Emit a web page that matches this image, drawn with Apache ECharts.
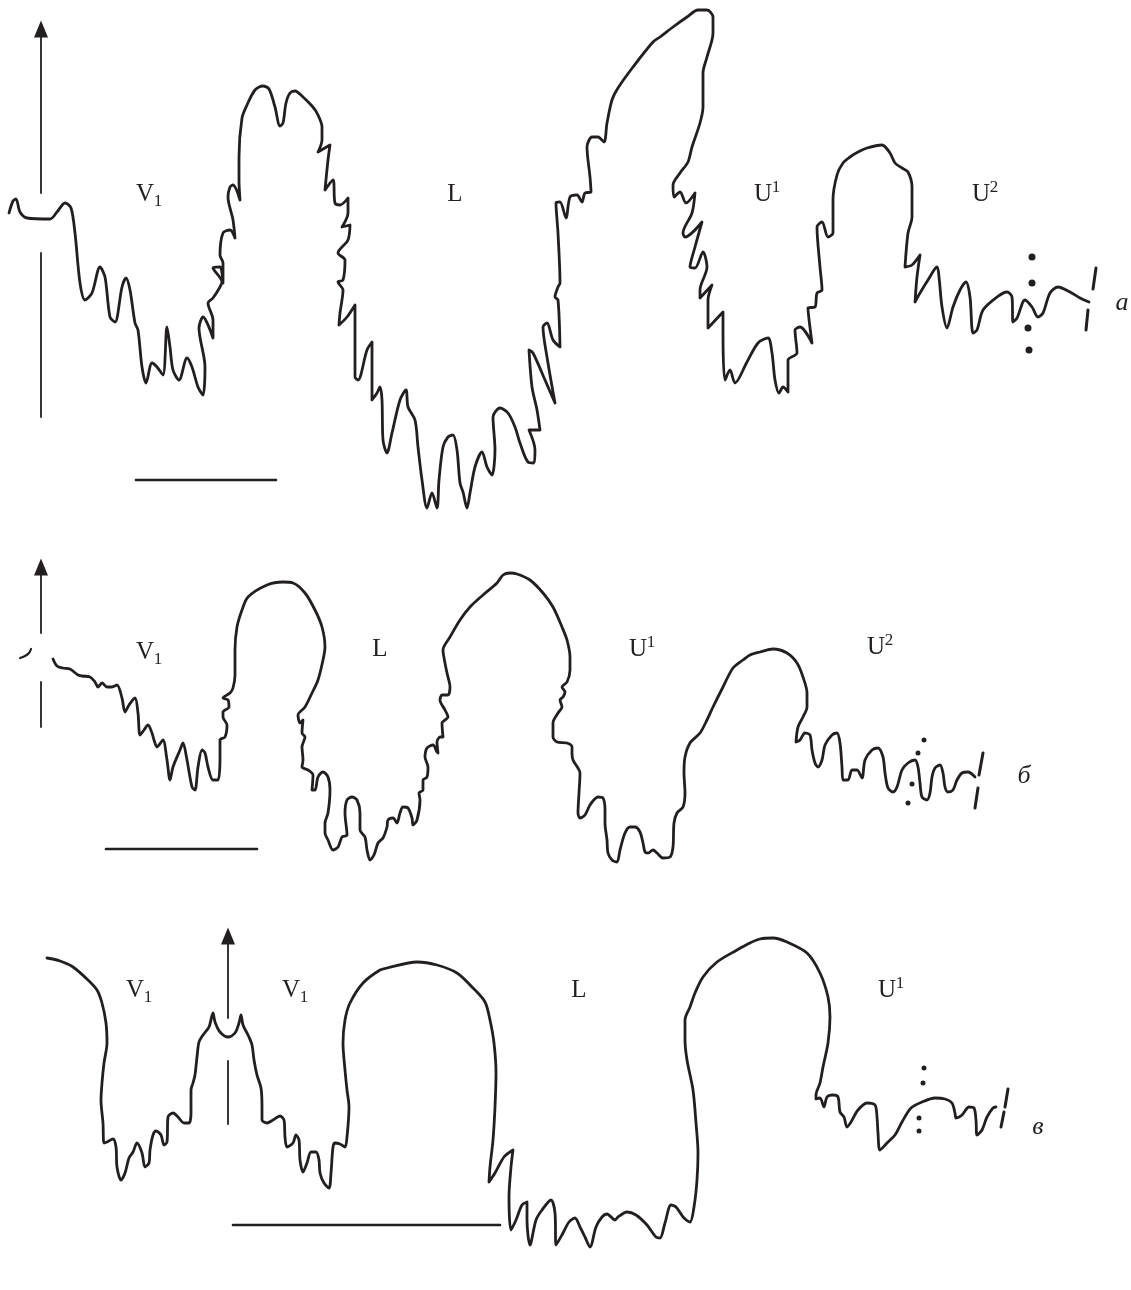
<!DOCTYPE html>
<html><head><meta charset="utf-8">
<script src="https://cdn.jsdelivr.net/npm/echarts@6/dist/echarts.min.js"></script>
<style>html,body{margin:0;padding:0;background:#fff}#c{width:1131px;height:1290px}</style>
</head><body><div id="c"></div>
<script>
// ---- traced suture lines (x, y in figure units) ----
var sutureA = [[9,213],[13,201],[16,199],[20,212],[27,218],[50,219],[57,212],[65,203],[71,208],[75,233],[80,283],[85,300],[92,293],[100,267],[105,277],[110,317],[115,322],[122,287],[126,278],[130,290],[135,323],[138,330],[142,367],[146,383],[152,363],[157,367],[163,375],[167,327],[170,347],[173,370],[179,380],[187,358],[192,367],[198,387],[203,395],
[205,367],[199,328],[203,317],[213,338],[213,320],[208,303],[213,298],[220,287],[222,282],[213,268],[220,267],[223,283],[223,263],[220,255],[223,233],[230,230],[235,238],[233,220],[228,197],[230,187],[233,185],[240,200],[239,180],[239,157],[242,118],[247,105],[255,90],[263,86],[269,89],[275,107],[280,126],[283,123],[286,103],[290,93],
[295,91],[303,97],[312,106],[317,113],[322,127],[322,140],[318,152],[330,145],[328,160],[325,190],[333,180],[335,203],[340,205],[348,198],[348,213],[342,227],[350,225],[348,240],[338,253],[345,260],[343,280],[338,282],[343,290],[340,313],[339,325],[347,317],[355,305],[355,333],[355,377],[358,380],[367,350],[372,342],[372,367],[372,400],[377,393],[380,387],[382,400],[383,440],[387,453],[392,433],[400,400],[406,390],[408,407],[415,420],[418,447],[422,480],[427,508],[432,493],[437,508],[439,480],[443,447],[448,437],[453,435],[457,450],[460,483],[463,492],[467,508],[470,493],[475,467],[482,452],[487,467],[492,475],[495,450],[493,417],[500,408],[508,413],[515,427],[520,443],[528,462],[534,463],[535,450],[529,430],[540,430],[537,410],[532,387],[529,350],[533,353],[545,380],[555,403],[547,357],[543,327],[547,323],[553,340],[560,347],[558,300],[555,297],[558,287],[560,283],[558,233],[556,203],[560,202],[566,218],[570,197],[577,195],[582,202],[585,193],[591,192],
[590,177],[587,147],[592,137],[598,137],[604,142],[607,123],[612,100],[618,88],[633,67],[653,42],[660,37],[673,27],[687,17],[698,10],[707,10],[713,17],[713,33],[707,57],[703,73],[703,107],[700,123],[692,147],[688,162],[680,173],[673,185],[674,197],[680,192],[686,203],[695,193],[692,213],[683,233],[685,237],[702,222],[695,247],[690,267],[695,268],[703,252],[707,267],[700,290],[700,298],[712,285],[708,300],[708,328],[723,312],[723,333],[725,380],[730,370],[735,383],[747,362],[758,343],[768,338],[772,353],[775,380],[779,393],[783,387],[788,392],[788,360],[797,353],[795,330],[800,327],[812,343],[808,308],[815,307],[817,293],[822,290],[820,267],[817,227],[822,222],[828,237],[833,233],[833,200],[837,175],[843,163],[850,157],
[858,152],[867,148],[882,145],[890,153],[895,163],[902,168],[908,172],[912,187],[912,217],[908,233],[905,267],[912,265],[920,255],[917,277],[915,302],[920,293],[928,280],[937,267],[939,277],[942,307],[947,328],[953,307],[960,290],[966,282],[970,297],[973,333],[977,330],[983,310],[997,297],[1007,292],[1012,297],[1013,322],[1017,318],[1025,300],[1032,307],[1038,317],[1043,313],[1050,293],[1058,287],[1070,292],[1080,298],[1089,302]];

var sutureB = [[53,659],[57,666],[63,668],[70,669],[78,675],[82,676],[90,677],[95,682],[98,687],[102,683],[107,687],[112,687],[117,685],[122,698],[125,712],[129,705],[135,698],[138,713],[140,735],[144,730],[148,725],[152,733],[154,740],[157,747],[159,745],[163,740],[167,760],[170,780],[173,767],[180,750],[183,743],[187,760],[192,787],[195,790],[198,767],[202,750],[205,753],[208,767],[213,780],[218,780],[220,757],[220,740],[225,737],[227,725],[223,717],[223,712],[229,707],[228,700],[223,698],[230,693],[233,688],[235,675],[235,650],[237,627],[242,610],[248,597],[267,585],[283,582],[293,583],[305,593],[315,610],[322,627],[325,647],[323,660],[318,680],[312,693],[305,707],[298,715],[300,723],[303,720],[302,733],[305,737],[302,747],[303,760],[302,767],[308,770],[313,775],[312,790],[315,790],[318,777],[323,772],[328,777],[330,790],[328,813],[325,823],[325,833],[328,840],[333,850],[338,847],[342,837],[347,835],[345,813],[347,800],[352,797],[357,800],[360,813],[360,830],[365,837],[367,850],[370,860],[374,855],[378,843],[383,838],[387,827],[388,820],[393,818],[397,823],[400,813],[403,807],[408,808],[412,818],[413,825],[417,820],[420,800],[419,793],[423,790],[423,780],[427,777],[428,767],[425,757],[427,748],[433,745],[437,752],[438,753],[437,742],[440,737],[443,737],[442,723],[445,720],[448,717],[445,710],[440,700],[442,695],[448,695],[450,687],[447,673],[445,663],[443,650],[450,637],[460,620],[470,607],[483,595],[497,583],[503,575],[510,573],[517,574],[530,580],[543,593],[553,607],[562,627],[567,640],[570,657],[570,670],[567,682],[562,687],[565,692],[563,697],[560,700],[562,707],[558,713],[553,723],[553,737],[557,742],[567,743],[572,747],[572,753],[573,760],[578,768],[580,773],[579,793],[578,813],[580,818],[585,815],[590,805],[598,797],[603,798],[605,810],[605,823],[607,840],[608,853],[612,860],[617,862],[620,850],[625,833],[630,827],[635,827],[640,832],[643,843],[645,852],[648,853],[653,850],[657,853],[663,858],[670,857],[673,847],[674,823],[677,813],[683,807],[685,793],[684,773],[685,757],[690,743],[700,733],[707,720],[713,707],[723,687],[733,668],[743,660],[750,655],[760,652],[773,649],[787,653],[797,663],[803,677],[807,693],[807,707],[803,717],[798,727],[796,742],[800,740],[805,733],[810,735],[812,750],[815,763],[818,767],[822,760],[825,745],[832,735],[837,733],[840,743],[842,767],[843,780],[848,780],[852,770],[857,770],[862,778],[865,760],[872,750],[878,748],[883,757],[885,773],[888,788],[893,792],[897,787],[902,770],[908,763],[915,760],[918,767],[920,783],[922,797],[927,800],[930,793],[932,777],[935,768],[940,765],[943,773],[945,787],[948,792],[953,790],[957,780],[962,773],[968,772],[975,777]];

var sutureC = [[47,958],[60,961],[73,967],[88,980],[97,990],[102,1003],[106,1023],[107,1043],[104,1063],[102,1083],[101,1100],[103,1123],[104,1143],[107,1142],[113,1139],[116,1147],[117,1167],[121,1180],[125,1173],[129,1158],[133,1152],[137,1143],[142,1153],[145,1167],[149,1163],[150,1150],[153,1135],[156,1131],[161,1135],[164,1145],[167,1142],[168,1117],[173,1113],[178,1117],[184,1123],[189,1123],[191,1113],[191,1090],[193,1083],[195,1075],[197,1057],[199,1042],[203,1035],[209,1027],[213,1013],[215,1022],[220,1032],[228,1037],[235,1033],[239,1023],[241,1015],[243,1025],[248,1035],[252,1045],[254,1060],[257,1075],[261,1088],[262,1107],[262,1120],[267,1123],[273,1120],[280,1116],[284,1120],[285,1137],[287,1147],[293,1143],[296,1135],[299,1140],[300,1160],[303,1172],[307,1163],[311,1152],[316,1152],[319,1160],[320,1173],[324,1183],[329,1188],[331,1173],[333,1147],[335,1143],[340,1144],[345,1147],[347,1137],[349,1107],[347,1090],[345,1070],[343,1043],[345,1020],[350,1003],[363,983],[380,970],[387,968],[417,962],[437,965],[457,973],[473,988],[485,1002],[490,1020],[494,1043],[496,1073],[495,1107],[493,1140],[490,1167],[489,1182],[495,1173],[504,1157],[513,1150],[511,1167],[509,1197],[511,1230],[516,1220],[522,1205],[527,1202],[527,1220],[530,1245],[536,1220],[542,1210],[551,1200],[555,1213],[556,1245],[563,1233],[569,1222],[575,1218],[580,1227],[585,1237],[590,1247],[596,1227],[602,1217],[607,1214],[615,1220],[618,1217],[627,1212],[636,1215],[647,1225],[656,1237],[660,1238],[665,1223],[671,1205],[676,1207],[684,1218],[690,1222],[694,1207],[697,1180],[698,1153],[696,1123],[693,1090],[687,1060],[685,1040],[685,1020],[690,1007],[695,993],[703,977],[717,962],[737,950],[750,943],[760,939],[773,938],[787,942],[807,953],[820,973],[828,997],[830,1017],[828,1043],[823,1067],[820,1083],[816,1095],[816,1099],[820,1098],[824,1107],[827,1097],[833,1095],[838,1097],[840,1112],[844,1117],[847,1127],[851,1122],[858,1110],[867,1103],[875,1105],[877,1117],[878,1133],[880,1150],[887,1143],[895,1135],[902,1122],[911,1108],[922,1102],[935,1098],[945,1099],[952,1103],[955,1113],[956,1118],[962,1115],[969,1107],[974,1108],[976,1120],[977,1135],[982,1130],[987,1117],[993,1108],[996,1107]];

var arcB = [[20,658],[25,656],[29,653],[31,649]];

// break dots and break ticks
var dotsA = [[1032,257],[1032,283],[1028,328],[1029,350]];
var dotsB = [[924,740],[918,753],[912,784],[908,803]];
var dotsC = [[924,1068],[923,1083],[919,1118],[919,1131]];
var ticksA = [[[1096,268],[1093,289]],[[1088,310],[1086,330]]];
var ticksB = [[[983,753],[979,775]],[[978,788],[975,808]]];
var ticksC = [[[1008,1089],[1005,1107]],[[1004,1112],[1001,1127]]];

// scale bars
var scaleA = [[136,480],[276,480]];
var scaleB = [[106,849],[257,849]];
var scaleC = [[233,1225],[500,1225]];

// ventral axis (arrow) pieces: upper shaft, lower shaft, arrow head
var axisA = {up:[[41,193],[41,28]], low:[[41,253],[41,417]], tip:[41,29]};
var axisB = {up:[[41,633],[41,566]], low:[[41,682],[41,727]], tip:[41,567]};
var axisC = {up:[[228,1018],[228,935]], low:[[228,1061],[228,1124]], tip:[228,936]};

// lobe / saddle labels
var lobeLabels = [
  ['V','1','sub',145,194],['L','','',455,194],['U','1','sup',763,194],['U','2','sup',981,194],
  ['V','1','sub',145,652],['L','','',380,649],['U','1','sup',638,649],['U','2','sup',876,647],
  ['V','1','sub',135,990],['V','1','sub',291,990],['L','','',579,990],['U','1','sup',887,990]
];
var panelLetters = [['a',1122,303],['б',1024,776],['в',1038,1127]];

var INK = '#231f20';
var series = [];
function line(data, w, smooth){
  series.push({type:'line', data:data, showSymbol:false, symbol:'none', smooth:smooth||false,
    lineStyle:{color:INK, width:w, cap:'round', join:'round', opacity:1}, silent:true, animation:false, z:3});
}
line(sutureA, 2.8, 0.3); line(sutureB, 2.8, 0.3); line(sutureC, 2.8, 0.3); line(arcB, 2.2, 0.4);
[ticksA, ticksB, ticksC].forEach(function(t){ t.forEach(function(s){ line(s, 3); }); });
[scaleA, scaleB, scaleC].forEach(function(s){ line(s, 2.6); });
[axisA, axisB, axisC].forEach(function(a){ line(a.up, 1.8); line(a.low, 1.8); });
series.push({type:'scatter', data:[axisA.tip, axisB.tip, axisC.tip], symbol:'triangle', symbolSize:[14,17],
  itemStyle:{color:INK, opacity:1}, silent:true, animation:false, z:4});
series.push({type:'scatter', data:dotsA, symbol:'circle', symbolSize:7, itemStyle:{color:INK, opacity:1}, silent:true, animation:false});
series.push({type:'scatter', data:dotsB.concat(dotsC), symbol:'circle', symbolSize:5, itemStyle:{color:INK, opacity:1}, silent:true, animation:false});

var chart = echarts.init(document.getElementById('c'), null, {renderer:'canvas'});
var W = 1131, H = 1290;
var graphics = [];
var FONT = '"Liberation Serif","Times New Roman",serif';
lobeLabels.forEach(function(l){
  graphics.push({type:'text', x:l[3], y:l[4], silent:true,
    style:{text:l[0], fill:INK, font:'25px '+FONT, align:'center', verticalAlign:'middle'}});
  if(l[1]){
    var dx = 13, dy = l[2]==='sub' ? 8 : -6;
    graphics.push({type:'text', x:l[3]+dx, y:l[4]+dy, silent:true,
      style:{text:l[1], fill:INK, font:'17px '+FONT, align:'center', verticalAlign:'middle'}});
  }
});
panelLetters.forEach(function(p){
  graphics.push({type:'text', x:p[1], y:p[2], silent:true,
    style:{text:p[0], fill:INK, font:'italic 26px '+FONT, align:'center', verticalAlign:'middle'}});
});

chart.setOption({
  animation:false,
  backgroundColor:'#ffffff',
  grid:{left:0, right:0, top:0, bottom:0},
  xAxis:{type:'value', min:0, max:W, show:false},
  yAxis:{type:'value', min:0, max:H, inverse:true, show:false},
  series:series,
  graphic:graphics
});
</script></body></html>
